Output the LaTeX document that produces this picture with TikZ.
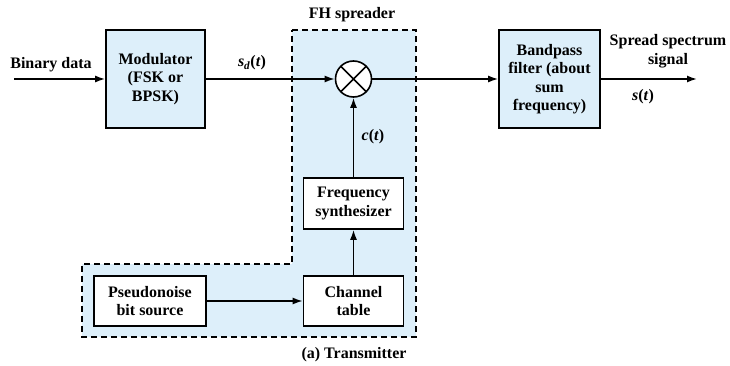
\documentclass[tikz,border=0pt]{standalone}
\usepackage{fontspec}
\setmainfont{Liberation Serif}
\usetikzlibrary{arrows.meta}
\definecolor{spreadblue}{RGB}{221,239,250}

\begin{document}
\begin{tikzpicture}[
    node distance=100pt,
    font=\fontsize{16}{18.5}\selectfont\bfseries,
    box/.style={rectangle, draw=black, fill=white, line width=1.6pt, align=center, inner sep=2pt},
    bluebox/.style={box, fill=spreadblue},
    mixer/.style={circle, draw=black, fill=white, line width=1.6pt, minimum size=36pt,
        path picture={\draw[line width=1.6pt]
            (path picture bounding box.north west) -- (path picture bounding box.south east)
            (path picture bounding box.north east) -- (path picture bounding box.south west);}},
    region/.style={draw=black, fill=spreadblue, dash pattern=on 6pt off 4pt, line width=1.6pt},
    lbl/.style={inner sep=1pt, align=center},
    arr/.style={-{Latex[length=10pt, width=7pt]}, line width=1.6pt},
]
\useasboundingbox (0pt,0pt) rectangle (730pt,-366pt);

% FH spreader area
\draw[region] (292pt,-30pt) -- (416pt,-30pt) -- (416pt,-337pt) -- (82pt,-337pt)
    -- (82pt,-264pt) -- (292pt,-264pt) -- cycle;

\node[bluebox, minimum width=99pt, minimum height=98pt] (mod) at (155.5pt,-79pt) {Modulator\\(FSK or\\BPSK)};
\node[mixer, right of=mod, node distance=198pt] (mult) {};
\node[bluebox, minimum width=101pt, minimum height=98pt, right of=mult, node distance=196pt] (bpf) {Bandpass\\filter (about\\sum\\frequency)};
\node[box, minimum width=100pt, minimum height=51pt, below of=mult, node distance=124.5pt] (synth) {Frequency\\synthesizer};
\node[box, minimum width=100pt, minimum height=50pt, below of=synth, node distance=97.5pt] (chan) {Channel\\table};
\node[box, minimum width=112pt, minimum height=50pt, left of=chan, node distance=203.5pt] (pn) {Pseudonoise\\bit source};

\coordinate[left of=mod, node distance=141.5pt] (in);
\coordinate[right of=bpf, node distance=147.5pt] (out);

\draw[arr] (in) -- (mod);
\draw[arr] (mod) -- (mult);
\draw[arr] (mult) -- (bpf);
\draw[arr] (bpf) -- (out);
\draw[arr] (synth) -- (mult);
\draw[arr] (chan) -- (synth);
\draw[arr] (pn) -- (chan);

\node[lbl] (bdlbl) at (51pt,-65pt) {Binary data};
\node[lbl] (sdlbl) at (252pt,-63pt) {\textit{s}\textsubscript{\textit{d}}(\textit{t})};
\node[lbl] (ctlbl) at (373pt,-137pt) {\textit{c}(\textit{t})};
\node[lbl] (fhlbl) at (352pt,-15pt) {FH spreader};
\node[lbl] (sslbl) at (668pt,-51pt) {Spread spectrum\\signal};
\node[lbl] (stlbl) at (643pt,-97pt) {\textit{s}(\textit{t})};
\node[lbl] (txlbl) at (354pt,-355pt) {(a) Transmitter};
\end{tikzpicture}
\end{document}
